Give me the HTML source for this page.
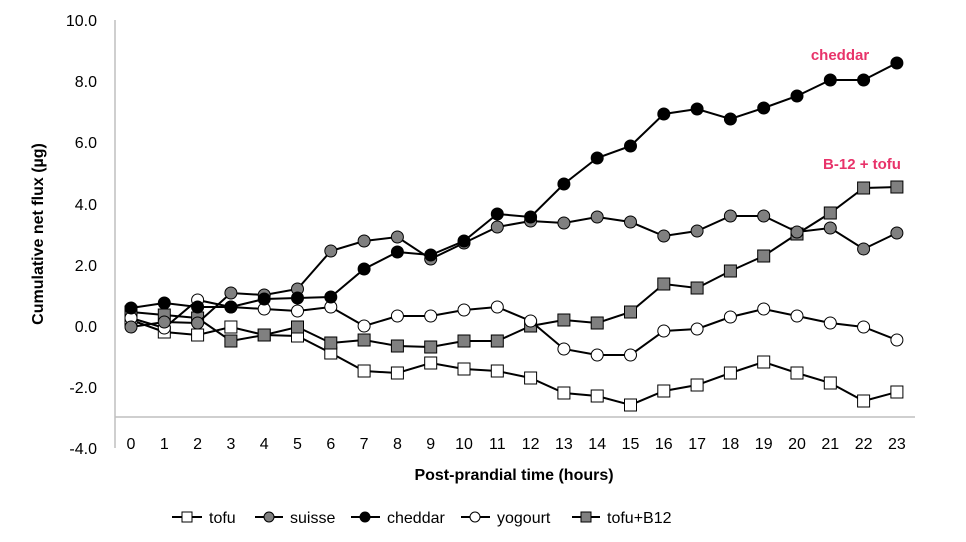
<!DOCTYPE html>
<html><head><meta charset="utf-8"><style>
html,body{margin:0;padding:0;background:#fff}
svg{display:block;font-family:"Liberation Sans",Arial,sans-serif}
</style></head><body>
<svg id="s" width="966" height="542" xmlns="http://www.w3.org/2000/svg">
<line x1="115" y1="20" x2="115" y2="448" stroke="#bfbfbf" stroke-width="1.5"/>
<line x1="115" y1="417" x2="915" y2="417" stroke="#bfbfbf" stroke-width="1.5"/>
<g font-size="16" fill="#000" text-anchor="end">
<text x="97" y="26">10.0</text><text x="97" y="87">8.0</text><text x="97" y="148">6.0</text>
<text x="97" y="210">4.0</text><text x="97" y="271">2.0</text><text x="97" y="332">0.0</text>
<text x="97" y="393">-2.0</text><text x="97" y="454">-4.0</text>
</g>
<g id="xt" font-size="16" text-anchor="middle"></g>
<text x="514" y="480" font-size="16" font-weight="bold" text-anchor="middle">Post-prandial time (hours)</text>
<text transform="translate(43,234) rotate(-90)" font-size="16" font-weight="bold" text-anchor="middle">Cumulative net flux (µg)</text>
<text x="840" y="60" font-size="15" font-weight="bold" fill="#e8336a" text-anchor="middle">cheddar</text>
<text x="862" y="169" font-size="15" font-weight="bold" fill="#e8336a" text-anchor="middle">B-12 + tofu</text>
<g id="series"></g>
<g font-size="16">
<line x1="172" y1="517" x2="202" y2="517" stroke="#000" stroke-width="2"/><rect x="182" y="512" width="10" height="10" fill="#fff" stroke="#000"/><text x="209" y="523">tofu</text>
<line x1="255" y1="517" x2="283" y2="517" stroke="#000" stroke-width="2"/><circle cx="269" cy="517" r="5" fill="#808080" stroke="#000"/><text x="290" y="523">suisse</text>
<line x1="351" y1="517" x2="380" y2="517" stroke="#000" stroke-width="2"/><circle cx="365" cy="517" r="5" fill="#000" stroke="#000"/><text x="387" y="523">cheddar</text>
<line x1="461" y1="517" x2="490" y2="517" stroke="#000" stroke-width="2"/><circle cx="475" cy="517" r="5" fill="#fff" stroke="#000"/><text x="497" y="523">yogourt</text>
<line x1="572" y1="517" x2="600" y2="517" stroke="#000" stroke-width="2"/><rect x="581" y="512" width="10" height="10" fill="#808080" stroke="#000"/><text x="607" y="523">tofu+B12</text>
</g>
</svg>
<script>
var X=function(i){return 131+33.3*i};
var xt=document.getElementById('xt'),h='';
for(var i=0;i<24;i++)h+='<text x="'+X(i)+'" y="449">'+i+'</text>';
xt.innerHTML=h;
var S=[
{t:'r',f:'#fff',d:[320,332,335,327,335,336,353,371,373,363,369,371,378,393,396,405,391,385,373,362,373,383,401,392]},
{t:'r',f:'#808080',d:[312,315,318,341,335,327,343,340,346,347,341,341,326,320,323,312,284,288,271,256,234,213,188,187]},
{t:'c',f:'#fff',d:[318,328,300,307,309,311,307,326,316,316,310,307,321,349,355,355,331,329,317,309,316,323,327,340]},
{t:'c',f:'#808080',d:[327,322,323,293,295,289,251,241,237,259,243,227,221,223,217,222,236,231,216,216,232,228,249,233]},
{t:'c',f:'#000',d:[308,303,307,307,299,298,297,269,252,255,241,214,217,184,158,146,114,109,119,108,96,80,80,63]}
];
var g='';
S.forEach(function(s){
 var p=s.d.map(function(y,i){return X(i)+','+y}).join(' ');
 g+='<polyline points="'+p+'" fill="none" stroke="#000" stroke-width="2"/>';
 s.d.forEach(function(y,i){
  if(s.t=='r')g+='<rect x="'+(X(i)-6)+'" y="'+(y-6)+'" width="12" height="12" fill="'+s.f+'" stroke="#000" stroke-width="1"/>';
  else g+='<circle cx="'+X(i)+'" cy="'+y+'" r="6" fill="'+s.f+'" stroke="#000" stroke-width="1"/>';
 });
});
document.getElementById('series').innerHTML=g;
</script>
</body></html>
